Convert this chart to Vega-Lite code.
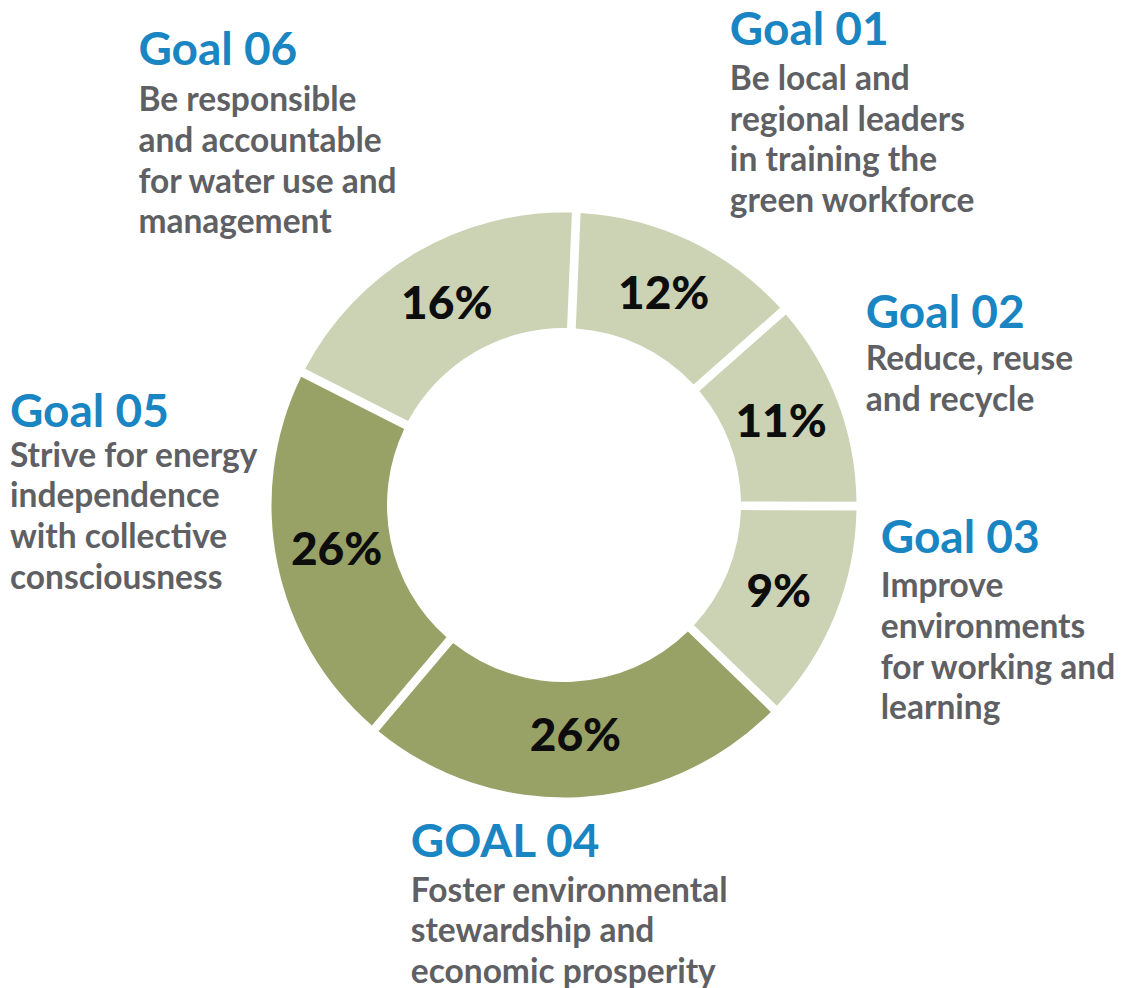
{
  "$schema": "https://vega.github.io/schema/vega-lite/v6.json",
  "width": 1128,
  "height": 1010,
  "autosize": {"type": "none"},
  "padding": 0,
  "background": "white",
  "config": {"view": {"stroke": null}},
  "data": {
    "values": [
      {"goal_no": 1, "title": "Goal 01", "desc": "Be local and\nregional leaders\nin training the\ngreen workforce", "label": "12%", "arc_share": 12.8},
      {"goal_no": 2, "title": "Goal 02", "desc": "Reduce, reuse\nand recycle", "label": "11%", "arc_share": 11.6},
      {"goal_no": 3, "title": "Goal 03", "desc": "Improve\nenvironments\nfor working and\nlearning", "label": "9%", "arc_share": 12.2},
      {"goal_no": 4, "title": "GOAL 04", "desc": "Foster environmental\nstewardship and\neconomic prosperity", "label": "26%", "arc_share": 23.9},
      {"goal_no": 5, "title": "Goal 05", "desc": "Strive for energy\nindependence\nwith collective\nconsciousness", "label": "26%", "arc_share": 21.3},
      {"goal_no": 6, "title": "Goal 06", "desc": "Be responsible\nand accountable\nfor water use and\nmanagement", "label": "16%", "arc_share": 18.2}
    ]
  },
  "encoding": {
    "theta": {"field": "arc_share", "type": "quantitative", "stack": true, "scale": {"domain": [0, 100], "range": [0.0419, 6.3251]}},
    "order": {"field": "goal_no", "type": "quantitative"}
  },
  "layer": [
    {
      "mark": {"type": "arc", "innerRadius": 177, "outerRadius": 292.5, "padAngle": 0.0255},
      "encoding": {
        "color": {"condition": {"test": "datum.goal_no === 4 || datum.goal_no === 5", "value": "#98a266"}, "value": "#ccd3b5"}
      }
    },
    {
      "mark": {"type": "text", "radius": 232, "align": "center", "baseline": "middle", "font": "Lato", "fontWeight": 900, "fontSize": 46, "color": "#0d0d0d"},
      "encoding": {"text": {"field": "label", "type": "nominal"}}
    },
    {
      "mark": {"type": "text", "radius": 300, "align": "left", "baseline": "alphabetic", "dx": 37, "dy": -189, "font": "Lato", "fontWeight": "bold", "fontSize": 46, "color": "#1985c2"},
      "encoding": {"text": {"condition": {"test": "datum.goal_no === 1", "field": "title"}, "value": ""}}
    },
    {
      "mark": {"type": "text", "radius": 300, "align": "left", "baseline": "alphabetic", "dx": 37, "dy": -144, "font": "Lato", "fontWeight": "bold", "fontSize": 33.5, "lineHeight": 40.7, "lineBreak": "\n", "color": "#5f6064"},
      "encoding": {"text": {"condition": {"test": "datum.goal_no === 1", "field": "desc"}, "value": ""}}
    },
    {
      "mark": {"type": "text", "radius": 300, "align": "left", "baseline": "alphabetic", "dx": 21, "dy": -71, "font": "Lato", "fontWeight": "bold", "fontSize": 46, "color": "#1985c2"},
      "encoding": {"text": {"condition": {"test": "datum.goal_no === 2", "field": "title"}, "value": ""}}
    },
    {
      "mark": {"type": "text", "radius": 300, "align": "left", "baseline": "alphabetic", "dx": 21, "dy": -29, "font": "Lato", "fontWeight": "bold", "fontSize": 33.5, "lineHeight": 40.7, "lineBreak": "\n", "color": "#5f6064"},
      "encoding": {"text": {"condition": {"test": "datum.goal_no === 2", "field": "desc"}, "value": ""}}
    },
    {
      "mark": {"type": "text", "radius": 300, "align": "left", "baseline": "alphabetic", "dx": 39, "dy": -65, "font": "Lato", "fontWeight": "bold", "fontSize": 46, "color": "#1985c2"},
      "encoding": {"text": {"condition": {"test": "datum.goal_no === 3", "field": "title"}, "value": ""}}
    },
    {
      "mark": {"type": "text", "radius": 300, "align": "left", "baseline": "alphabetic", "dx": 39, "dy": -21, "font": "Lato", "fontWeight": "bold", "fontSize": 33.5, "lineHeight": 40.7, "lineBreak": "\n", "color": "#5f6064"},
      "encoding": {"text": {"condition": {"test": "datum.goal_no === 3", "field": "desc"}, "value": ""}}
    },
    {
      "mark": {"type": "text", "radius": 300, "align": "left", "baseline": "alphabetic", "dx": -168, "dy": 52, "font": "Lato", "fontWeight": "bold", "fontSize": 46, "color": "#1985c2"},
      "encoding": {"text": {"condition": {"test": "datum.goal_no === 4", "field": "title"}, "value": ""}}
    },
    {
      "mark": {"type": "text", "radius": 300, "align": "left", "baseline": "alphabetic", "dx": -168, "dy": 97, "font": "Lato", "fontWeight": "bold", "fontSize": 33.5, "lineHeight": 40.7, "lineBreak": "\n", "color": "#5f6064"},
      "encoding": {"text": {"condition": {"test": "datum.goal_no === 4", "field": "desc"}, "value": ""}}
    },
    {
      "mark": {"type": "text", "radius": 300, "align": "left", "baseline": "alphabetic", "dx": -260, "dy": -138, "font": "Lato", "fontWeight": "bold", "fontSize": 46, "color": "#1985c2"},
      "encoding": {"text": {"condition": {"test": "datum.goal_no === 5", "field": "title"}, "value": ""}}
    },
    {
      "mark": {"type": "text", "radius": 300, "align": "left", "baseline": "alphabetic", "dx": -260, "dy": -98, "font": "Lato", "fontWeight": "bold", "fontSize": 33.5, "lineHeight": 40.7, "lineBreak": "\n", "color": "#5f6064"},
      "encoding": {"text": {"condition": {"test": "datum.goal_no === 5", "field": "desc"}, "value": ""}}
    },
    {
      "mark": {"type": "text", "radius": 300, "align": "left", "baseline": "alphabetic", "dx": -274, "dy": -181, "font": "Lato", "fontWeight": "bold", "fontSize": 46, "color": "#1985c2"},
      "encoding": {"text": {"condition": {"test": "datum.goal_no === 6", "field": "title"}, "value": ""}}
    },
    {
      "mark": {"type": "text", "radius": 300, "align": "left", "baseline": "alphabetic", "dx": -274, "dy": -135, "font": "Lato", "fontWeight": "bold", "fontSize": 33.5, "lineHeight": 40.7, "lineBreak": "\n", "color": "#5f6064"},
      "encoding": {"text": {"condition": {"test": "datum.goal_no === 6", "field": "desc"}, "value": ""}}
    }
  ]
}
